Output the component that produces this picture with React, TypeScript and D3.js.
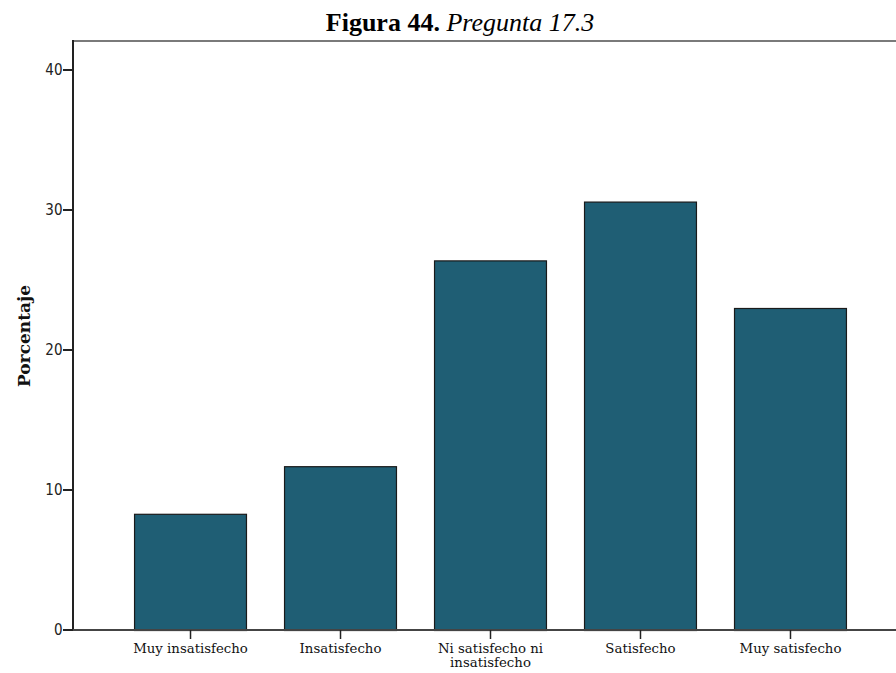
import React from "react";
import * as d3 from "d3";

const categories: string[][] = [
  ["Muy insatisfecho"],
  ["Insatisfecho"],
  ["Ni satisfecho ni", "insatisfecho"],
  ["Satisfecho"],
  ["Muy satisfecho"],
];
const values: number[] = [8.3, 11.7, 26.4, 30.6, 23.0];
const yTicks: number[] = [0, 10, 20, 30, 40];
const titleBold = "Figura 44.";
const titleItalic = "Pregunta 17.3";
const yLabel = "Porcentaje";

const W = 896;
const H = 673;
const left = 73;
const top = 41;
const bottom = 630;
const right = 908;

export default function App() {
  const keys = categories.map((c) => c.join(" "));
  const x = d3
    .scaleBand<string>()
    .domain(keys)
    .range([left, right])
    .paddingInner(0.247)
    .paddingOuter(0.407);
  const y = d3.scaleLinear().domain([0, 42.07]).range([bottom, top]);

  return (
    <svg
      width={W}
      height={H}
      style={{ position: "absolute", left: 0, top: 0, background: "#fff" }}
    >
      <text
        x={460}
        y={31}
        textAnchor="middle"
        fontFamily="'Liberation Serif', 'Times New Roman', serif"
        fontSize={26}
        fill="#000"
      >
        <tspan fontWeight="bold">{titleBold}</tspan>
        <tspan fontStyle="italic">{" " + titleItalic}</tspan>
      </text>
      {/* frame */}
      <line x1={left} x2={W + 10} y1={top} y2={top} stroke="#7a7a7a" strokeWidth={2} />
      {/* bars */}
      {values.map((v, i) => (
        <rect
          key={i}
          x={x(keys[i])! + 0.5}
          y={y(v) + 0.5}
          width={x.bandwidth() - 1}
          height={bottom - y(v)}
          fill="#1f5e74"
          stroke="#1a1a1a"
          strokeWidth={1.2}
        />
      ))}
      {/* axes */}
      <line x1={left} x2={left} y1={top - 1} y2={bottom + 1} stroke="#222" strokeWidth={2} />
      <line x1={left} x2={W + 10} y1={bottom} y2={bottom} stroke="#444" strokeWidth={2} />
      {yTicks.map((t) => (
        <g key={t}>
          <line x1={left - 10} x2={left} y1={y(t)} y2={y(t)} stroke="#222" strokeWidth={2} />
          <text
            x={left - 10.5}
            y={y(t)}
            dy="0.36em"
            textAnchor="end"
            fontFamily="'DejaVu Sans Condensed', 'DejaVu Sans', sans-serif"
            fontStretch="condensed"
            fontSize={15}
            fill="#222"
          >
            {t}
          </text>
        </g>
      ))}
      {categories.map((c, i) => {
        const cx = x(keys[i])! + x.bandwidth() / 2;
        return (
          <g key={i}>
            <line x1={cx} x2={cx} y1={bottom} y2={bottom + 9} stroke="#222" strokeWidth={1.5} />
            {c.map((line, j) => (
              <text
                key={j}
                x={cx}
                y={653 + j * 14}
                textAnchor="middle"
                fontFamily="'DejaVu Serif', serif"
                fontSize={13.3}
                fill="#111"
              >
                {line}
              </text>
            ))}
          </g>
        );
      })}
      <text
        transform={`translate(30, 336) rotate(-90)`}
        textAnchor="middle"
        fontFamily="'DejaVu Serif', serif"
        fontWeight="bold"
        fontSize={17}
        fill="#111"
      >
        {yLabel}
      </text>
    </svg>
  );
}
